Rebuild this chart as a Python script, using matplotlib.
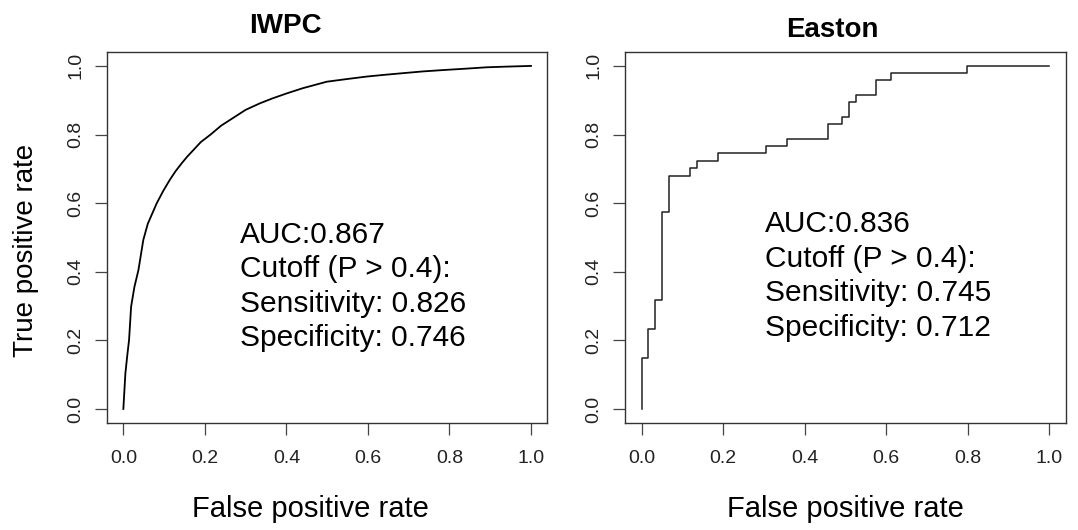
import matplotlib
matplotlib.use("Agg")
import matplotlib.pyplot as plt

plt.rcParams["font.family"] = ["Liberation Sans", "DejaVu Sans"]

# IWPC ROC curve (smooth, many thresholds)
iwpc_fpr = [0.0, 0.005, 0.010, 0.014, 0.019, 0.027, 0.037, 0.049, 0.060, 0.082,
            0.098, 0.114, 0.128, 0.143, 0.157, 0.172, 0.190, 0.213, 0.240, 0.274,
            0.300, 0.335, 0.365, 0.401, 0.440, 0.499, 0.550, 0.597, 0.640, 0.687,
            0.735, 0.785, 0.840, 0.891, 0.940, 1.0]
iwpc_tpr = [0.0, 0.104, 0.160, 0.201, 0.298, 0.355, 0.405, 0.493, 0.540, 0.600,
            0.636, 0.668, 0.693, 0.716, 0.736, 0.755, 0.778, 0.799, 0.826, 0.852,
            0.872, 0.891, 0.905, 0.920, 0.935, 0.954, 0.962, 0.969, 0.974, 0.979,
            0.984, 0.988, 0.992, 0.996, 0.998, 1.0]

# Easton ROC curve (step function)
easton_fpr = [0.0, 0.0, 0.016, 0.033, 0.051, 0.067, 0.118, 0.136, 0.188, 0.304,
              0.357, 0.457, 0.491, 0.509, 0.525, 0.576, 0.611, 0.798, 1.0]
easton_tpr = [0.0, 0.148, 0.232, 0.318, 0.573, 0.680, 0.702, 0.724, 0.745, 0.767,
              0.787, 0.830, 0.851, 0.894, 0.915, 0.958, 0.979, 1.0, 1.0]

iwpc_text = ["AUC:0.867", "Cutoff (P > 0.4):", "Sensitivity: 0.826", "Specificity: 0.746"]
easton_text = ["AUC:0.836", "Cutoff (P > 0.4):", "Sensitivity: 0.745", "Specificity: 0.712"]

ticks = [0.0, 0.2, 0.4, 0.6, 0.8, 1.0]
tick_labels = ["0.0", "0.2", "0.4", "0.6", "0.8", "1.0"]

fig = plt.figure(figsize=(10.78, 5.30), dpi=100)
ax1 = fig.add_axes([0.0993, 0.2025, 0.4084, 0.699])
ax2 = fig.add_axes([0.5801, 0.2025, 0.4084, 0.699])


def style_axis(ax):
    ax.set_xlim(-0.04, 1.04)
    ax.set_ylim(-0.04, 1.04)
    ax.set_xticks(ticks)
    ax.set_yticks(ticks)
    ax.set_xticklabels(tick_labels, fontsize=14, color="#222222")
    ax.set_yticklabels(tick_labels, fontsize=14, rotation=90, va="center",
                       color="#222222")
    ax.tick_params(axis="x", direction="out", length=8.5, width=0.9,
                   color="#444444", pad=11)
    ax.tick_params(axis="y", direction="out", length=8.5, width=0.9,
                   color="#444444", pad=8)
    for s in ax.spines.values():
        s.set_linewidth(1.0)
        s.set_color("#333333")


ax1.plot(iwpc_fpr, iwpc_tpr, color="black", lw=1.3)
ax2.plot(easton_fpr, easton_tpr, color="#222222", lw=1.1, drawstyle="steps-post")

style_axis(ax1)
style_axis(ax2)

ax1.text(0.286, 0.357, "\n".join(iwpc_text), fontsize=21.5, va="center",
         ha="left", linespacing=1.3)
ax2.text(0.302, 0.388, "\n".join(easton_text), fontsize=21.5, va="center",
         ha="left", linespacing=1.3)

fig.text(285 / 1078, 1 - 33 / 530, "IWPC", fontsize=20, fontweight="bold",
         ha="center", va="baseline")
fig.text(832 / 1078, 1 - 37 / 530, "Easton", fontsize=20, fontweight="bold",
         ha="center", va="baseline")

fig.text(310 / 1078, 1 - 517 / 530, "False positive rate", fontsize=21,
         ha="center", va="baseline")
fig.text(845 / 1078, 1 - 517 / 530, "False positive rate", fontsize=21,
         ha="center", va="baseline")
fig.text(26 / 1078, 1 - 250 / 530, "True positive rate", fontsize=20,
         rotation=90, ha="center", va="center")

fig.savefig("out.png", dpi=100)
